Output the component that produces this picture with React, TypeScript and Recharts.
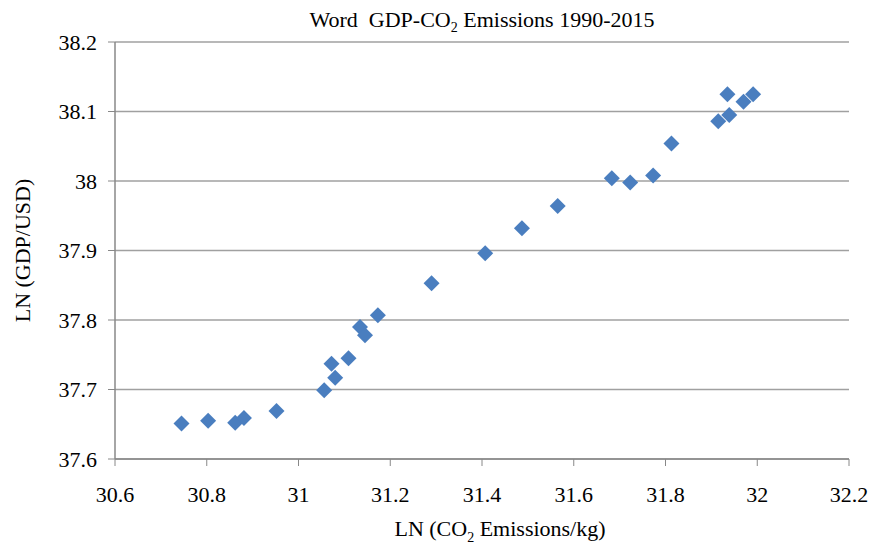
import { CartesianGrid, Label, Scatter, ScatterChart, XAxis, YAxis } from 'recharts'

// LN (CO2 emissions/kg)
const co2 = [
  30.745, 30.803, 30.862, 30.881, 30.952, 31.056, 31.08, 31.072, 31.109, 31.134,
  31.145, 31.173, 31.29, 31.407, 31.487, 31.565, 31.683, 31.723, 31.773, 31.813,
  31.915, 31.939, 31.935, 31.97, 31.991,
]
// LN (GDP/USD)
const gdp = [
  37.651, 37.655, 37.652, 37.659, 37.669, 37.699, 37.717, 37.737, 37.745, 37.79,
  37.778, 37.807, 37.853, 37.896, 37.932, 37.964, 38.004, 37.998, 38.008, 38.054,
  38.086, 38.095, 38.125, 38.114, 38.125,
]
const xTicks = [30.6, 30.8, 31, 31.2, 31.4, 31.6, 31.8, 32, 32.2]
const yTicks = [37.6, 37.7, 37.8, 37.9, 38, 38.1, 38.2]

const FONT = "'Liberation Serif', 'Times New Roman', serif"
const MARKER = '#4A7EBF'

const fmt = (v: number) => String(Number(v.toFixed(1)))

const Diamond = (props: any) => {
  const { cx, cy } = props
  const r = 8
  return (
    <polygon
      points={`${cx},${cy - r} ${cx + r},${cy} ${cx},${cy + r} ${cx - r},${cy}`}
      fill={MARKER}
    />
  )
}

export default function App() {
  const data = co2.map((x, i) => ({ x, y: gdp[i] }))
  const tick = { fill: '#000', fontSize: 22, style: { fontFamily: FONT } }

  return (
    <div
      style={{
        position: 'absolute',
        left: 0,
        top: 0,
        width: 877,
        height: 547,
        background: '#fff',
        fontFamily: FONT,
      }}
    >
      <div
        style={{
          position: 'absolute',
          left: 115,
          width: 734,
          top: 7,
          textAlign: 'center',
          fontSize: 22,
          lineHeight: '25px',
          color: '#000',
          whiteSpace: 'pre',
        }}
      >
        Word  GDP-CO<sub style={{ fontSize: 14, verticalAlign: -5 }}>2</sub> Emissions 1990-2015
      </div>
      <ScatterChart
        width={877}
        height={547}
        margin={{ top: 42, right: 28, bottom: 0, left: 0 }}
        style={{ fontFamily: FONT }}
      >
        <CartesianGrid vertical={false} stroke="#a0a0a0" strokeWidth={1.5} />
        <XAxis
          type="number"
          dataKey="x"
          domain={[30.6, 32.2]}
          ticks={xTicks}
          tickFormatter={fmt}
          height={88}
          tick={tick}
          tickSize={7}
          tickMargin={20}
          axisLine={{ stroke: '#888', strokeWidth: 1.5 }}
          tickLine={{ stroke: '#888' }}
        >
          <Label
            content={({ viewBox }: any) => (
              <text
                x={viewBox.x + viewBox.width / 2 + 18}
                y={536}
                textAnchor="middle"
                style={{ fontFamily: FONT, fontSize: 22 }}
                fill="#000"
              >
                LN (CO
                <tspan fontSize={14} dy={6}>2</tspan>
                <tspan dy={-6}> Emissions/kg)</tspan>
              </text>
            )}
          />
        </XAxis>
        <YAxis
          type="number"
          dataKey="y"
          domain={[37.6, 38.2]}
          ticks={yTicks}
          tickFormatter={fmt}
          width={115}
          tick={tick}
          tickSize={7}
          tickMargin={11}
          axisLine={{ stroke: '#888', strokeWidth: 1.5 }}
          tickLine={{ stroke: '#888' }}
        >
          <Label
            content={({ viewBox }: any) => {
              const cy = viewBox.y + viewBox.height / 2
              return (
                <text
                  x={30}
                  y={cy}
                  transform={`rotate(-90, 30, ${cy})`}
                  textAnchor="middle"
                  style={{ fontFamily: FONT, fontSize: 22 }}
                  fill="#000"
                >
                  LN (GDP/USD)
                </text>
              )
            }}
          />
        </YAxis>
        <Scatter data={data} shape={Diamond} isAnimationActive={false} />
      </ScatterChart>
    </div>
  )
}
